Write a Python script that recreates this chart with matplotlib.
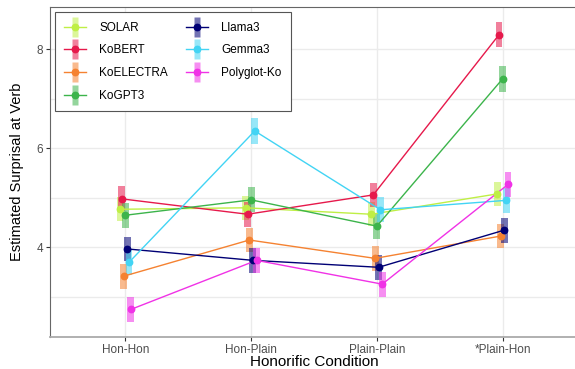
import matplotlib
matplotlib.use("Agg")
import matplotlib.pyplot as plt
import numpy as np
from matplotlib.lines import Line2D
from matplotlib.path import Path
from matplotlib.legend_handler import HandlerTuple

plt.rcParams['font.family'] = ['Liberation Sans', 'DejaVu Sans']

conditions = ["Hon-Hon", "Hon-Plain", "Plain-Plain", "*Plain-Hon"]
models = ["SOLAR", "KoBERT", "KoELECTRA", "KoGPT3", "Llama3", "Gemma3", "Polyglot-Ko"]
colors = ["#bfef45", "#e6194b", "#f58231", "#3cb44b", "#000075", "#42d4f4", "#f032e6"]

solar = [4.77, 4.80, 4.67, 5.08]
kobert = [4.98, 4.67, 5.06, 8.29]
koelectra = [3.42, 4.15, 3.78, 4.23]
kogpt3 = [4.65, 4.96, 4.43, 7.40]
llama3 = [3.97, 3.74, 3.60, 4.35]
gemma3 = [3.70, 6.35, 4.76, 4.95]
polyglot = [2.75, 3.74, 3.26, 5.27]
means = [solar, kobert, koelectra, kogpt3, llama3, gemma3, polyglot]

solar_ci = [0.24, 0.24, 0.24, 0.25]
kobert_ci = [0.25, 0.25, 0.25, 0.25]
koelectra_ci = [0.25, 0.24, 0.25, 0.25]
kogpt3_ci = [0.25, 0.25, 0.25, 0.26]
llama3_ci = [0.25, 0.25, 0.25, 0.25]
gemma3_ci = [0.25, 0.26, 0.25, 0.25]
polyglot_ci = [0.25, 0.25, 0.25, 0.26]
cis = [solar_ci, kobert_ci, koelectra_ci, kogpt3_ci, llama3_ci, gemma3_ci, polyglot_ci]

fig = plt.figure(figsize=(5.75, 3.69), dpi=100)
ax = fig.add_axes([50/575, 1-337/369, 528/575, 330/369])

x = np.arange(1, len(conditions) + 1)
dodge = 0.1
n = len(models)
for i, (m, c) in enumerate(zip(models, colors)):
    off = (i - (n - 1) / 2) * dodge / n
    xs = x + off
    mu = np.array(means[i])
    ci = np.array(cis[i])
    ax.bar(xs, 2 * ci, bottom=mu - ci, width=0.055, color=c, alpha=0.55,
           linewidth=0, zorder=2)
for i, (m, c) in enumerate(zip(models, colors)):
    off = (i - (n - 1) / 2) * dodge / n
    xs = x + off
    ax.plot(xs, means[i], color=c, lw=1.0, zorder=3)
    ax.plot(xs, means[i], 'o', color=c, ms=4.6, zorder=4)

ax.set_xlim(0.4, 4.6)
ax.set_ylim(2.194, 8.85)
ax.set_xticks(x)
ax.set_xticklabels(conditions)
ax.set_yticks([4, 6, 8])
ax.set_yticks([3, 5, 7], minor=True)
ax.grid(True, which='both', color='#ebebeb', lw=1.0, zorder=0)
ax.set_axisbelow(True)
ax.tick_params(which='minor', length=0)
ax.tick_params(which='major', length=3, width=0.8, color='#333333',
               labelcolor='#4d4d4d', labelsize=8.5, pad=2)

for s in ['left', 'top']:
    ax.spines[s].set_color('#666666')
    ax.spines[s].set_linewidth(0.8)
ax.spines['bottom'].set_color('#aaaaaa')
ax.spines['bottom'].set_linewidth(1.3)
ax.spines['right'].set_visible(False)

ax.set_xlabel("Honorific Condition", fontsize=11, color='black')
ax.set_ylabel("Estimated Surprisal at Verb", fontsize=10.5, color='black')
ax.xaxis.label.set_va('baseline')
ax.xaxis.set_label_coords(0.5, (337 - 365.5) / 330)
ax.yaxis.label.set_va('center')
ax.yaxis.set_label_coords((17 - 50) / 528, 0.5)

bar_marker = Path([(-0.5, -1.5), (0.5, -1.5), (0.5, 1.5), (-0.5, 1.5), (-0.5, -1.5)],
                  [Path.MOVETO, Path.LINETO, Path.LINETO, Path.LINETO, Path.CLOSEPOLY])
handles = []
for c in colors:
    h_bar = Line2D([], [], marker=bar_marker, ms=14, color=c, alpha=0.55,
                   mec='none', linestyle='none')
    h_line = Line2D([], [], color=c, lw=1.0, marker='o', ms=4.6)
    handles.append((h_bar, h_line))

leg = ax.legend(handles, models, ncol=2, loc='upper left',
                bbox_to_anchor=((55 - 50) / 528, 1 - (12.7 - 7.3) / 330),
                borderaxespad=0,
                handler_map={tuple: HandlerTuple(ndivide=1, pad=0)},
                fontsize=8.5, frameon=True, fancybox=False, edgecolor='#555555',
                framealpha=1, handlelength=1.86, handletextpad=1.07,
                columnspacing=1.57, labelspacing=0.9, borderpad=0.8)
leg.get_frame().set_linewidth(0.8)

fig.savefig("out.png", dpi=100)
